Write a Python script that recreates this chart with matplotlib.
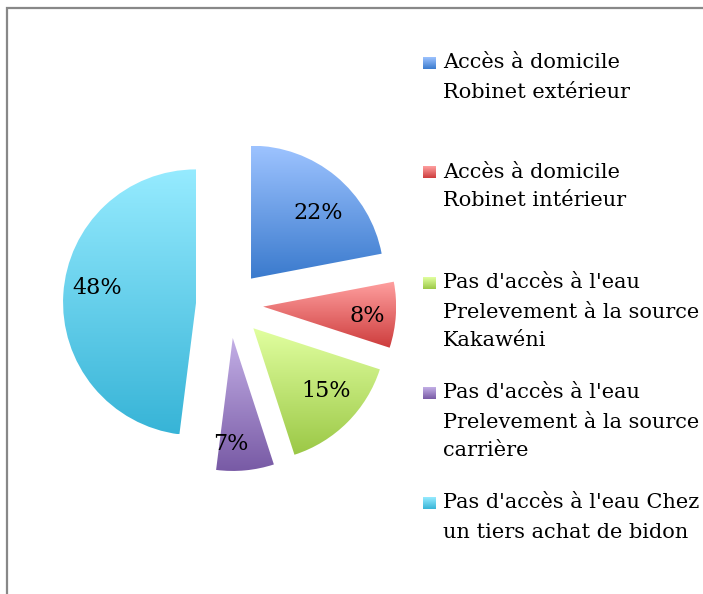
import matplotlib
matplotlib.use("Agg")
import matplotlib.pyplot as plt
import numpy as np
from matplotlib.colors import LinearSegmentedColormap
from matplotlib.patches import Rectangle

# ---- data ----
categories = [
    "Accès à domicile\nRobinet extérieur",
    "Accès à domicile\nRobinet intérieur",
    "Pas d'accès à l'eau\nPrelevement à la source\nKakawéni",
    "Pas d'accès à l'eau\nPrelevement à la source\ncarrière",
    "Pas d'accès à l'eau Chez\nun tiers achat de bidon",
]
values = [22, 8, 15, 7, 48]

# ---- styles ----
top_colors = ["#9DC3FF", "#FFA0A0", "#E1FFA0", "#C3AFE6", "#96EBFF"]
bottom_colors = ["#3A7ACD", "#CD3C3C", "#9BC846", "#785AA5", "#37B4D7"]
label_nudge = [(4, -11), (5, -3), (2, 8), (-11, -7), (1, 8)]  # px offsets
FONT = "DejaVu Serif"
W, H = 703, 594

fig = plt.figure(figsize=(W / 100, H / 100), dpi=100)
ax = fig.add_axes([0, 0, 1, 1])

cx, cy = 229.6, H - 304.5
radius = 133
wedges, texts, autotexts = ax.pie(
    values, startangle=90, counterclock=False, radius=radius,
    center=(cx, cy), explode=[33.6] * len(values),
    autopct="%.0f%%", pctdistance=0.75,
    textprops=dict(fontsize=16, family=FONT, color="black"),
)
ax.set_xlim(0, W)
ax.set_ylim(0, H)
ax.set_aspect("auto")
ax.axis("off")

grad = np.linspace(0, 1, 256).reshape(-1, 1)
for w, c0, c1 in zip(wedges, top_colors, bottom_colors):
    cmap = LinearSegmentedColormap.from_list("g", [c1, c0])
    bb = w.get_path().get_extents(w.get_patch_transform())
    w.set_facecolor("none")
    w.set_edgecolor("none")
    im = ax.imshow(grad, cmap=cmap, origin="lower", aspect="auto",
                   extent=[bb.x0, bb.x1, bb.y0, bb.y1], zorder=1,
                   interpolation="bilinear")
    im.set_clip_path(w)
for t, (dx, dy) in zip(autotexts, label_nudge):
    x, y = t.get_position()
    t.set_position((x + dx, y + dy))
    t.set_zorder(5)

# legend (manual)
first_line_y = [63, 172, 283, 393, 503]
line_h = 29
for lab, y, c0, c1 in zip(categories, first_line_y, top_colors, bottom_colors):
    cmap = LinearSegmentedColormap.from_list("g", [c1, c0])
    yy = H - y
    ax.imshow(grad, cmap=cmap, origin="lower", aspect="auto",
              extent=[423, 436, yy - 6, yy + 6], zorder=2)
    for i, line in enumerate(lab.split("\n")):
        ax.text(443, yy - i * line_h, line, fontsize=15, family=FONT,
                va="center", ha="left", color="black")

ax.set_xlim(0, W)
ax.set_ylim(0, H)

# frame
fig.add_artist(Rectangle((6.5 / W, -0.1), 2, (H - 8.5) / H + 0.1,
                         transform=fig.transFigure, fill=False,
                         edgecolor="#888888", linewidth=1.6))

fig.savefig("out.png", dpi=100)
